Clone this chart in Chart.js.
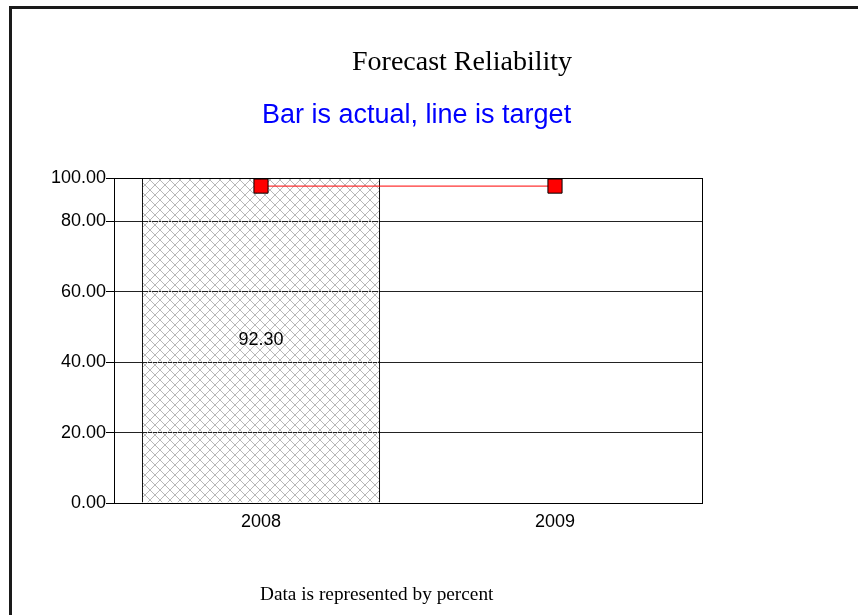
<!DOCTYPE html>
<html>
<head>
<meta charset="utf-8">
<script src="https://cdn.jsdelivr.net/npm/chart.js@4/dist/chart.umd.min.js"></script>
<style>
  html, body { margin: 0; padding: 0; background: #fff; }
  #wrap { position: relative; width: 858px; height: 615px; overflow: hidden; }
  #frame { position: absolute; left: 9px; top: 6px; width: 900px; height: 700px;
           border-top: 3px solid #1a1a1a; border-left: 3px solid #1a1a1a; box-sizing: border-box; }
  canvas { position: absolute; left: 0; top: 0; }
</style>
</head>
<body>
<div id="wrap">
  <div id="frame"></div>
  <canvas id="chart" width="858" height="615"></canvas>
</div>
<script>
// Yearly figures: bar = actual, line = target
const categories = ['2008', '2009'];
const actual = [92.3, null];
const target = [90, 90];
const yTickSteps = [0, 20, 40, 60, 80];
const yTickLabels = ['0.00', '20.00', '40.00', '60.00', '80.00', '100.00'];

const titleText = 'Forecast Reliability';
const subtitleText = 'Bar is actual, line is target';
const footerText = 'Data is represented by percent';

// the value axis tops out at the highest actual value
const yTop = Math.max(...actual.filter(v => v !== null));

// diamond cross-hatch used to fill the bars
function makeHatch() {
  const p = 10;
  const c = document.createElement('canvas');
  c.width = p; c.height = p;
  const g = c.getContext('2d');
  g.strokeStyle = '#b8b8b8';
  g.lineWidth = 1;
  g.beginPath();
  g.moveTo(0, 0); g.lineTo(p, p);
  g.moveTo(p, 0); g.lineTo(0, p);
  g.stroke();
  return g.createPattern(c, 'repeat');
}

const SANS = "'Liberation Sans', Arial, sans-serif";
const SERIF = "'Liberation Serif', 'Times New Roman', serif";

const plotFrame = {
  id: 'plotFrame',
  beforeDatasetsDraw(chart) {
    const { ctx, chartArea: a } = chart;
    ctx.save();
    ctx.strokeStyle = '#000';
    ctx.lineWidth = 1;
    const l = Math.round(a.left) + 0.5, t = Math.round(a.top) + 0.5;
    ctx.strokeRect(l, t, Math.round(a.right) - Math.round(a.left), Math.round(a.bottom) - Math.round(a.top));
    ctx.restore();
  }
};

const barValueLabels = {
  id: 'barValueLabels',
  afterDatasetsDraw(chart) {
    const { ctx } = chart;
    const meta = chart.getDatasetMeta(1);
    ctx.save();
    ctx.fillStyle = '#000';
    ctx.font = '18px ' + SANS;
    ctx.textAlign = 'center';
    ctx.textBaseline = 'middle';
    meta.data.forEach((el, i) => {
      const v = actual[i];
      if (v === null) return;
      ctx.fillText(v.toFixed(2), el.x, (el.y + el.base) / 2);
    });
    ctx.restore();
  }
};

const captions = {
  id: 'captions',
  afterDraw(chart) {
    const { ctx } = chart;
    ctx.save();
    ctx.textAlign = 'left';
    ctx.textBaseline = 'alphabetic';
    ctx.fillStyle = '#000';
    ctx.font = '28px ' + SERIF;
    ctx.fillText(titleText, 352, 70);
    ctx.fillStyle = '#0000ff';
    ctx.font = '27px ' + SANS;
    ctx.fillText(subtitleText, 262, 123);
    ctx.fillStyle = '#000';
    ctx.font = '19.3px ' + SERIF;
    ctx.fillText(footerText, 260, 600);
    ctx.restore();
  }
};

new Chart(document.getElementById('chart'), {
  data: {
    labels: categories,
    datasets: [
      {
        type: 'line',
        label: 'Target',
        data: target,
        order: 0,
        borderColor: '#ff0000',
        borderWidth: 1,
        pointStyle: 'rect',
        pointRadius: 10,
        pointHoverRadius: 10,
        pointBackgroundColor: '#ff0000',
        pointBorderColor: '#000',
        pointBorderWidth: 1,
        tension: 0
      },
      {
        type: 'bar',
        label: 'Actual',
        data: actual,
        order: 1,
        backgroundColor: makeHatch(),
        borderColor: '#000',
        borderWidth: 1,
        categoryPercentage: 1,
        barPercentage: 0.81
      }
    ]
  },
  options: {
    responsive: false,
    animation: false,
    events: [],
    layout: { padding: { left: 0, right: 156, top: 178, bottom: 0 } },
    plugins: {
      legend: { display: false },
      title: { display: false },
      tooltip: { enabled: false }
    },
    scales: {
      x: {
        type: 'category',
        offset: true,
        grid: { display: false, drawTicks: false },
        border: { display: false },
        ticks: { color: '#000', font: { family: SANS, size: 18 }, padding: 8, maxRotation: 0 },
        afterFit(scale) { scale.height = 615 - 503; }
      },
      y: {
        type: 'linear',
        min: 0,
        max: yTop,
        grid: { color: '#222', lineWidth: 1, tickLength: 8, drawTicks: true, tickColor: '#000' },
        border: { display: false },
        ticks: {
          color: '#000',
          font: { family: SANS, size: 18 },
          padding: 0,
          autoSkip: false,
          callback: (v, i) => yTickLabels[i]
        },
        afterBuildTicks(scale) {
          scale.ticks = yTickSteps.concat([yTop]).map(v => ({ value: v }));
        },
        afterFit(scale) { scale.width = 114; }
      }
    }
  },
  plugins: [plotFrame, barValueLabels, captions]
});
</script>
</body>
</html>
